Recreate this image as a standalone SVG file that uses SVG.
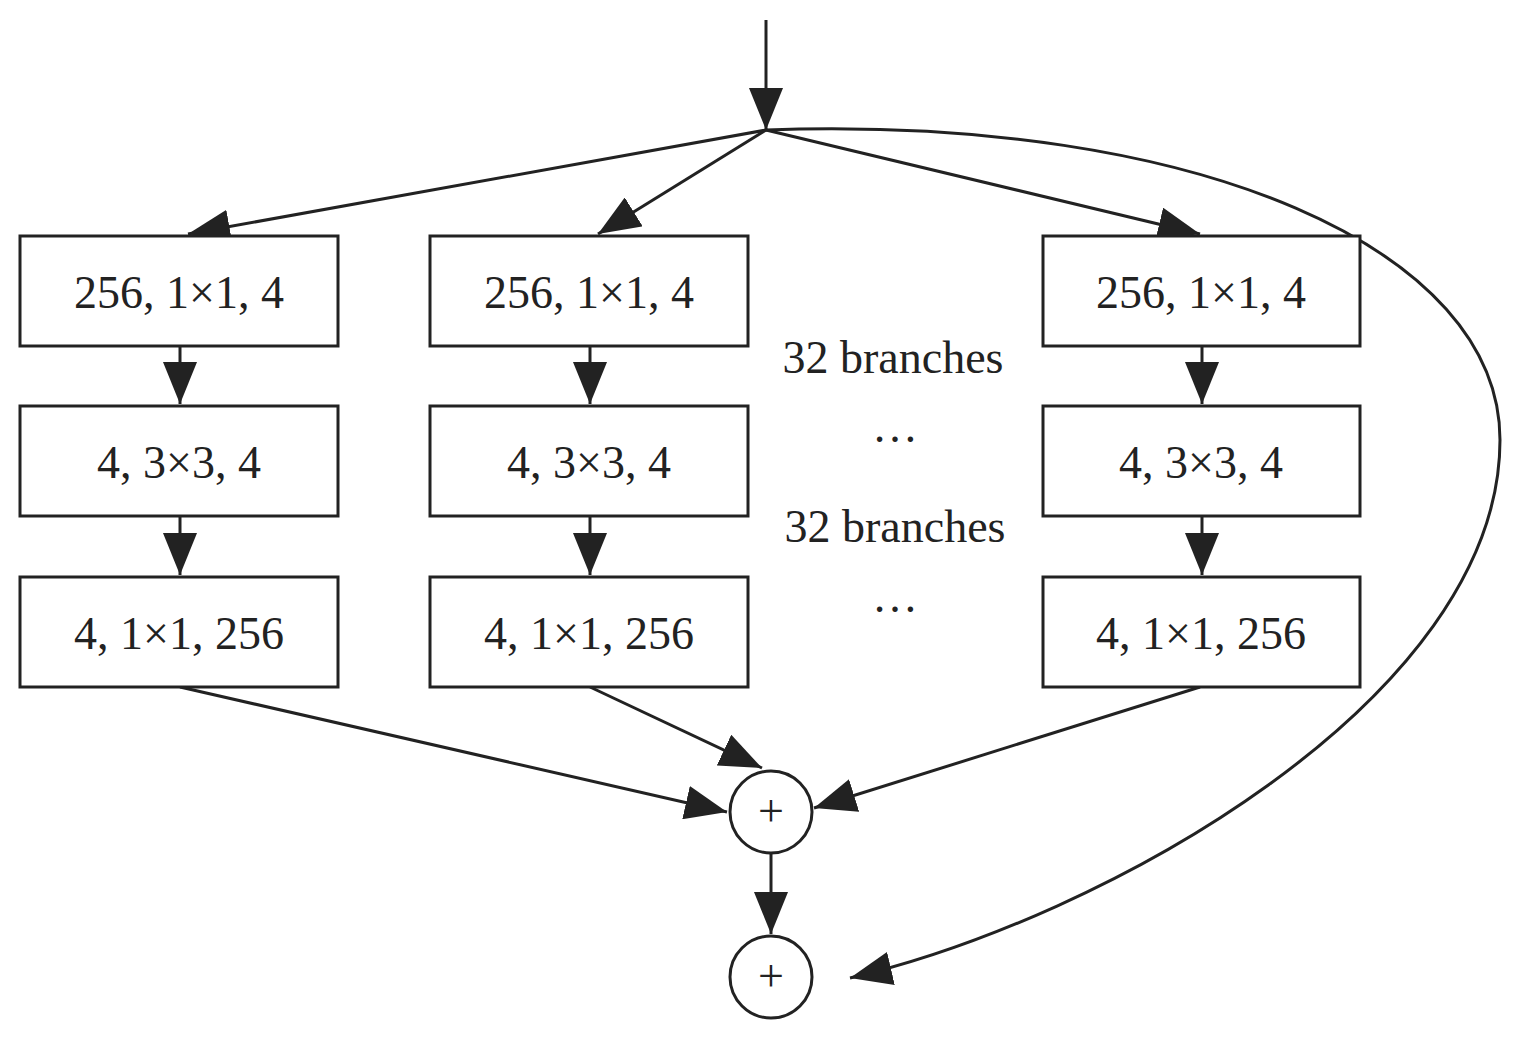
<svg xmlns="http://www.w3.org/2000/svg" width="1516" height="1041" viewBox="0 0 1516 1041">
<style>
.box{fill:#fff;stroke:#222;stroke-width:3}
.t{font-family:"Liberation Serif",serif;font-size:46px;fill:#222;text-anchor:middle}
.c{fill:none;stroke:#222;stroke-width:3}
</style>
<defs>
<marker id="a" markerUnits="userSpaceOnUse" markerWidth="44" markerHeight="34" refX="42" refY="17" orient="auto">
<path d="M0,0 L42,17 L0,34 Z" fill="#222"/>
</marker>
</defs>
<rect width="1516" height="1041" fill="#fff"/>
<g id="connectors" class="c" marker-end="url(#a)">
<path d="M766,20 V130"/>
<path d="M766,130 L188,234"/>
<path d="M766,130 L598,234"/>
<path d="M766,130 L1200,234"/>
<path d="M766,130 C1200,115 1500,250 1500,440 C1500,700 1100,920 850,978"/>
<path d="M180,346 V404"/><path d="M180,516 V575"/>
<path d="M590,346 V404"/><path d="M590,516 V575"/>
<path d="M1202,346 V404"/><path d="M1202,516 V575"/>
<path d="M180,687 L727,812"/>
<path d="M590,687 L762,768"/>
<path d="M1200,687 L814,808"/>
<path d="M771,852 V934"/>
</g>
<g id="c1"><rect class="box" x="20" y="236" width="318" height="110"/><text class="t" x="179" y="308">256, 1×1, 4</text></g>
<g id="c2"><rect class="box" x="20" y="406" width="318" height="110"/><text class="t" x="179" y="478">4, 3×3, 4</text></g>
<g id="c3"><rect class="box" x="20" y="577" width="318" height="110"/><text class="t" x="179" y="649">4, 1×1, 256</text></g>
<g id="m1"><rect class="box" x="430" y="236" width="318" height="110"/><text class="t" x="589" y="308">256, 1×1, 4</text></g>
<g id="m2"><rect class="box" x="430" y="406" width="318" height="110"/><text class="t" x="589" y="478">4, 3×3, 4</text></g>
<g id="m3"><rect class="box" x="430" y="577" width="318" height="110"/><text class="t" x="589" y="649">4, 1×1, 256</text></g>
<g id="r1"><rect class="box" x="1043" y="236" width="317" height="110"/><text class="t" x="1201" y="308">256, 1×1, 4</text></g>
<g id="r2"><rect class="box" x="1043" y="406" width="317" height="110"/><text class="t" x="1201" y="478">4, 3×3, 4</text></g>
<g id="r3"><rect class="box" x="1043" y="577" width="317" height="110"/><text class="t" x="1201" y="649">4, 1×1, 256</text></g>
<g id="labels">
<text class="t" x="893" y="373">32 branches</text>
<text class="t" x="895" y="442">…</text>
<text class="t" x="895" y="542">32 branches</text>
<text class="t" x="895" y="612">…</text>
</g>
<g id="sum1"><circle class="box" cx="771" cy="812" r="41"/><text class="t" x="771" y="826">+</text></g>
<g id="sum2"><circle class="box" cx="771" cy="977" r="41"/><text class="t" x="771" y="991">+</text></g>
</svg>
